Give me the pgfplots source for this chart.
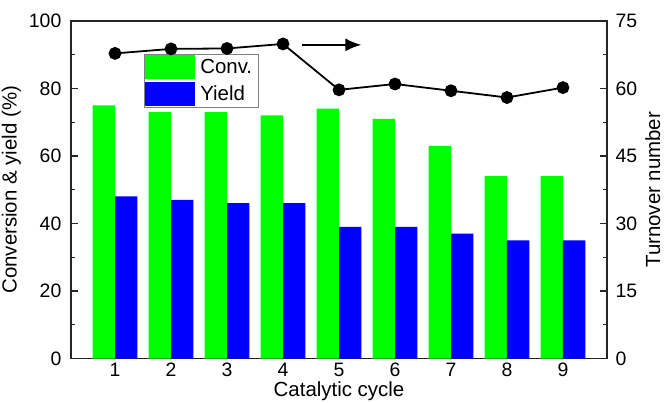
\documentclass[border=0pt]{standalone}
\usepackage{fontspec}
\setmainfont{Liberation Sans}
\usepackage{pgfplots}
\pgfplotsset{compat=1.18}
\usetikzlibrary{arrows.meta}
\definecolor{cgreen}{RGB}{0,255,0}
\definecolor{cblue}{RGB}{0,0,255}
\newcommand{\ff}{\fontsize{19.5}{22}\selectfont}
\newcommand{\fl}{\fontsize{20.5}{24}\selectfont}
\begin{document}
\ff
\begin{tikzpicture}
\useasboundingbox (-71bp,-44.5bp) rectangle (594bp,358.5bp);
\pgfplotsset{
  every axis/.append style={
    scale only axis, width=536bp, height=337.5bp,
    at={(0,0)}, anchor=south west,
    xmin=0.214, xmax=9.786,
    /pgf/number format/assume math mode=true,
    tick label style={font=\ff},
    label style={font=\fl},
    tick align=inside, major tick length=7bp, minor tick length=4.5bp,
    axis line style={line width=1.3bp, draw=black!85},
    every tick/.style={line width=1.1bp, black!85},
  }
}
\begin{axis}[
  ymin=0, ymax=100,
  xtick={1,...,9}, xtick pos=bottom, ytick pos=left,
  ytick={0,20,...,100}, minor y tick num=1,
  x tick style={draw=none},
  xlabel={Catalytic cycle}, ylabel={Conversion \& yield (\%)},
  xlabel style={yshift=8bp}, ylabel style={yshift=-5bp},
  xticklabel style={yshift=2.5bp},
  yticklabel style={xshift=-3bp},
  legend style={at={(0.136,0.902)}, anchor=north west, draw=gray, line width=0.8pt,
    font=\fl, row sep=3bp, inner sep=1bp, nodes={inner xsep=5bp},
    cells={anchor=west}},
  legend image code/.code={\fill[#1] (0bp,-12bp) rectangle (50bp,12bp);},
]
\addplot[ybar, bar width=0.4, bar shift=-0.2, fill=cgreen, draw=none] coordinates {
(1,75) (2,73) (3,73) (4,72) (5,74) (6,71) (7,63) (8,54) (9,54)};
\addlegendentry{Conv.}
\addplot[ybar, bar width=0.4, bar shift=0.2, fill=cblue, draw=none] coordinates {
(1,48) (2,47) (3,46) (4,46) (5,39) (6,39) (7,37) (8,35) (9,35)};
\addlegendentry{Yield}
\end{axis}
\begin{axis}[
  ymin=0, ymax=75,
  axis x line=none, axis y line*=right, ytick pos=right,
  ytick={0,15,...,75}, minor y tick num=1,
  ylabel={Turnover number}, ylabel style={yshift=5bp},
  yticklabel style={xshift=2bp},
]
\addplot[black, line width=1.8bp, mark=*, mark size=5.5bp] coordinates {
(1,67.8) (2,68.8) (3,68.9) (4,69.9) (5,59.7) (6,61.0) (7,59.5) (8,58.0) (9,60.2)};
\draw[black, line width=2bp, -{Latex[length=16bp,width=13bp]}] (axis cs:4.34,69.7) -- (axis cs:5.40,69.7);
\end{axis}
\end{tikzpicture}
\end{document}
